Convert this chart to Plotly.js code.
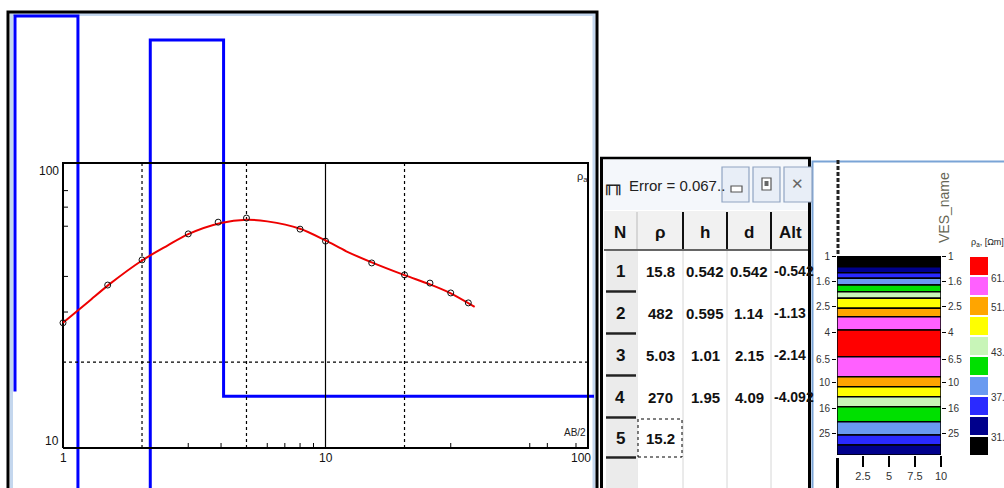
<!DOCTYPE html>
<html><head><meta charset="utf-8">
<script src="https://cdn.plot.ly/plotly-3.0.1.min.js"></script>
<style>html,body{margin:0;padding:0;background:#fff;overflow:hidden}#c{width:1004px;height:488px}</style>
</head><body><div id="c"></div><script>
// ---------------- data ----------------
// field measurements (AB/2, apparent resistivity)
const abHalf = [1, 1.48, 2, 3, 3.9, 5, 8, 10, 15, 20, 25, 30, 35];
const rhoA   = [27.5, 37.3, 45.7, 56.4, 62.0, 64.1, 58.6, 53.2, 44.6, 40.5, 37.9, 35.0, 32.3];
// fitted curve
const fitAB  = [1, 1.25, 1.5, 2, 2.5, 3, 4, 5, 6, 8, 10, 12, 15, 20, 25, 30, 37];
const fitRho = [27.5, 32.6, 37.5, 45.5, 51.3, 56.3, 61.6, 63.2, 62.4, 58.8, 53.5, 49.0, 44.8, 40.4, 37.5, 34.9, 31.3];
// layered model
const layerN   = [1, 2, 3, 4, 5];
const layerRho = [15.8, 482, 5.03, 270, 15.2];
const layerH   = [0.542, 0.595, 1.01, 1.95];
const layerD   = [0.542, 1.14, 2.15, 4.09];
const layerAlt = ["-0.542", "-1.13", "-2.14", "-4.092"];
const tableHeader = ["N", "ρ", "h", "d", "Alt"];
const errorText = "Error = 0.067..";
// axis ticks of the sounding plot
const xTickVals = [1, 10, 100];
const yTickVals = [10, 100];
const xMinorTicks = [3, 4, 6, 7, 8, 9, 30, 60, 70, 90];
const yMinorTicks = [30, 40, 60, 70, 80];
const xDotGrid = [2, 5, 20];
const xSolidGrid = [10];
const yDotGrid = [20];
// pseudo-section column (AB/2 band edges and colour class of each band)
const bandEdges = [1.00, 1.214, 1.353, 1.498, 1.692, 1.910, 2.154, 2.581, 3.006, 3.825, 6.21, 8.92, 10.69, 12.82, 15.37, 20.18, 25.7, 30.8, 36.9];
const bandClass = [0, 1, 2, 3, 4, 5, 6, 7, 8, 9, 8, 7, 6, 5, 4, 3, 2, 1];
const colTickVals = [1, 1.6, 2.5, 4, 6.5, 10, 16, 25];
const colXTicks = [2.5, 5, 7.5, 10];
const colXTickText = ["2.5", "5", "7.5", "10"];
// colour scale, lowest to highest
const classColors = ["#000000", "#00008c", "#2a2aff", "#6a9af0", "#00e000", "#c8f5b8", "#ffff00", "#ffa500", "#ff60ff", "#ff0000"];
const legendLabels = ["61.", "51.", "43.", "37.", "31."];

// ---------------- layout helpers ----------------
const W = 1004, H = 488;
const PX = x => x / W, PY = y => 1 - y / H;
const X0PX = 63, DECX = 262.5, Y10PX = 448, DECY = 285;
const xr = p => (p - X0PX) / DECX;       // pixel -> log10(AB/2)
const yr = p => 1 + (Y10PX - p) / DECY;  // pixel -> log10(rho)
const NARROW = "Liberation Sans, Arial, sans-serif";
const SANS = "Liberation Sans, Arial, sans-serif";

const traces = [];
// model step line
const sx = [], sy = [];
sx.push(Math.pow(10, xr(-200))); sy.push(layerRho[0]);
for (let i = 0; i < layerD.length; i++) { sx.push(layerD[i], layerD[i]); sy.push(layerRho[i], layerRho[i + 1]); }
sx.push(Math.pow(10, xr(900))); sy.push(layerRho[layerRho.length - 1]);
const xVisMin = Math.pow(10, xr(15)), yVisMax = Math.pow(10, yr(16));
traces.push({type: 'scatter', mode: 'lines', x: sx.map(v => Math.max(v, xVisMin)), y: sy.map(v => Math.min(v, yVisMax)),
  line: {color: '#0000ff', width: 3}, hoverinfo: 'skip', xaxis: 'x', yaxis: 'y'});

// frame of the sounding plot
traces.push({type: 'scatter', mode: 'lines', x: [1, 100, 100, 1, 1], y: [10, 10, 100, 100, 10],
  line: {color: '#000', width: 2}, hoverinfo: 'skip'});
// grid
function segs(list, f) { const X = [], Y = []; list.forEach(v => { const s = f(v); X.push(s[0], s[1], null); Y.push(s[2], s[3], null); }); return {X, Y}; }
let g = segs(xSolidGrid, v => [v, v, 10, 100]);
traces.push({type: 'scatter', mode: 'lines', x: g.X, y: g.Y, line: {color: '#000', width: 1.2}, hoverinfo: 'skip'});
g = segs(xDotGrid, v => [v, v, 10, 100]);
let g2 = segs(yDotGrid, v => [1, 100, v, v]);
traces.push({type: 'scatter', mode: 'lines', x: g.X.concat(g2.X), y: g.Y.concat(g2.Y), line: {color: '#000', width: 1.2, dash: '3px,3px'}, hoverinfo: 'skip'});
// minor ticks
const tx = Math.pow(10, xr(X0PX + 5)), ty = Math.pow(10, yr(Y10PX - 5));
g = segs(xMinorTicks, v => [v, v, 10, ty]);
g2 = segs(yMinorTicks, v => [1, tx, v, v]);
traces.push({type: 'scatter', mode: 'lines', x: g.X.concat(g2.X), y: g.Y.concat(g2.Y), line: {color: '#000', width: 1}, hoverinfo: 'skip'});
// fitted curve + measurements
traces.push({type: 'scatter', mode: 'lines', x: fitAB, y: fitRho, line: {color: '#ee0000', width: 2, shape: 'spline', smoothing: 0.8}, hoverinfo: 'skip'});
traces.push({type: 'scatter', mode: 'markers', x: abHalf, y: rhoA, marker: {symbol: 'circle-open', size: 6, color: '#111', line: {width: 1}}, hoverinfo: 'skip'});

// pseudo-section column
const bx = [], bb = [], bh = [], bc = [];
for (let i = 0; i < bandClass.length; i++) { bx.push(5); bb.push(bandEdges[i]); bh.push(bandEdges[i + 1] - bandEdges[i]); bc.push(classColors[bandClass[i]]); }
traces.push({type: 'bar', x: bx, y: bh, base: bb, width: 10, marker: {color: bc, line: {color: '#000', width: 1.5}}, xaxis: 'x3', yaxis: 'y3', hoverinfo: 'skip'});
traces.push({type: 'scatter', mode: 'none', x: [5, 5], y: [1, 30], xaxis: 'x3', yaxis: 'y4', hoverinfo: 'skip'});
// legend boxes
traces.push({type: 'bar', orientation: 'h', y: classColors.map((c, i) => i), x: classColors.map(() => 1), width: 0.86,
  marker: {color: classColors}, xaxis: 'x5', yaxis: 'y5', hoverinfo: 'skip'});

// ---------------- shapes ----------------
const shapes = [];
function rectP(x0, y0, x1, y1, opt) { shapes.push(Object.assign({type: 'rect', xref: 'paper', yref: 'paper', x0: PX(x0), x1: PX(x1), y0: PY(y1), y1: PY(y0), layer: 'below', line: {width: 0}}, opt)); }
function lineP(x0, y0, x1, y1, color, width, dash, layer) { shapes.push({type: 'line', xref: 'paper', yref: 'paper', x0: PX(x0), x1: PX(x1), y0: PY(y0), y1: PY(y1), line: {color: color, width: width, dash: dash || 'solid'}, layer: layer || 'above'}); }

// left panel frame
rectP(11.5, 14.5, 594, 500, {line: {color: '#c4d7ee', width: 3}});
rectP(8, 12, 597, 500, {line: {color: '#000', width: 3}});

// table window
rectP(603, 159, 809, 210, {fillcolor: '#f4f7fb'});
lineP(601.5, 157, 601.5, 488, '#000', 3);
lineP(600, 158, 811, 158, '#000', 2.5);
lineP(809.5, 157, 809.5, 488, '#000', 3);
const btns = [[722, 749], [753, 780], [784, 812]];
btns.forEach(b => rectP(b[0], 167, b[1], 202, {fillcolor: '#e8eef7', line: {color: '#8fa4c2', width: 1.2}, layer: 'above'}));
rectP(731, 186, 742, 192, {fillcolor: '#ffffff', line: {color: '#555', width: 1.2}, layer: 'above'});
rectP(762, 178, 771, 190, {fillcolor: '#ffffff', line: {color: '#555', width: 1.2}, layer: 'above'});
rectP(764.5, 181, 768.5, 186, {fillcolor: '#666', layer: 'above'});
const colEdges = [604, 637, 683, 727, 771, 808];
const rowEdges = [250, 292, 334, 376, 418, 458, 500];
rectP(604, 211, 808, 250, {fillcolor: '#f1f1f1'});
lineP(604, 250, 808, 250, '#333', 1.5);
for (let c = 1; c < colEdges.length - 1; c++) {
  lineP(colEdges[c], 212, colEdges[c], 249, c === 1 ? '#bbb' : '#111', c === 1 ? 1 : 2);
  lineP(colEdges[c], 251, colEdges[c], 488, '#d6d6d6', 1);
}
for (let r = 0; r < layerN.length + 1; r++) {
  rectP(606, rowEdges[r] + 1, 636, rowEdges[r + 1] - 1, {fillcolor: '#ebebeb'});
  if (r < layerN.length) lineP(606, rowEdges[r + 1] - 0.5, 636, rowEdges[r + 1] - 0.5, '#222', 2.5);
}
// focus cell (last rho)
rectP(638, rowEdges[4] + 1, 682, rowEdges[5] - 1, {line: {color: '#000', width: 1, dash: 'dot'}, layer: 'above'});

// right panel
rectP(812.5, 161.5, 1010, 500, {line: {color: '#7aa4d6', width: 2}});
lineP(837.5, 458, 837.5, 488, '#000', 3);
lineP(838, 160, 838, 254, '#222', 3, '4px,2px');

// ---------------- annotations ----------------
const ann = [];
function txt(x, y, t, o) { ann.push(Object.assign({xref: 'paper', yref: 'paper', x: PX(x), y: PY(y), text: t, showarrow: false, xanchor: 'center', yanchor: 'middle', font: {family: SANS, size: 11, color: '#111'}}, o || {})); }
// sounding plot axis text
xTickVals.forEach((v, i) => txt(X0PX + DECX * Math.log10(v) - (i === xTickVals.length - 1 ? 7 : 0), 458, String(v), {font: {family: SANS, size: 12, color: '#111'}}));
yTickVals.forEach(v => txt(61, Y10PX - DECY * (Math.log10(v) - 1) + (v === 100 ? 8 : -7), String(v), {xanchor: 'right', font: {family: SANS, size: 12, color: '#111'}}));
txt(582, 177, 'ρ<sub>a</sub>', {font: {family: SANS, size: 11, color: '#222'}});
txt(575, 432, 'AB/2', {font: {family: SANS, size: 10, color: '#222'}});
// table
txt(613, 186, '╓╖', {font: {family: 'DejaVu Sans', size: 17, color: '#222'}});
txt(627, 186, errorText, {xanchor: 'left', font: {family: NARROW, size: 15, color: '#222'}});
txt(797, 184, '✕', {font: {family: 'DejaVu Sans', size: 15, color: '#666'}});
const colCenters = [620, 660, 705, 749, 772];
tableHeader.forEach((t, c) => txt(c === 4 ? 790 : colCenters[c], 232, '<b>' + t + '</b>', {font: {family: NARROW, size: 17, color: '#111'}}));
const bodyCols = [layerN.map(String), layerRho.map(String), layerH.map(String), layerD.map(String), layerAlt];
bodyCols.forEach((col, c) => col.forEach((t, r) => {
  const y = (rowEdges[r] + rowEdges[r + 1]) / 2;
  txt(colCenters[c], y, '<b>' + t + '</b>', {xanchor: c === 4 ? 'left' : 'center', font: {family: NARROW, size: c === 0 ? 17 : (c === 4 ? 14 : 15), color: '#111'}});
}));
// right panel
txt(944, 208, 'VES_name', {textangle: -90, font: {family: SANS, size: 14, color: '#665'}});
txt(969, 242, 'ρ<sub>a</sub>, [Ωm]', {xanchor: 'left', font: {family: NARROW, size: 9, color: '#222'}});
const legY = [278, 307, 352, 397, 437];
legendLabels.forEach((t, i) => txt(989, legY[i], t, {xanchor: 'left', font: {family: NARROW, size: 10, color: '#333'}}));

const layout = {
  width: W, height: H, margin: {l: 0, r: 0, t: 0, b: 0}, showlegend: false,
  paper_bgcolor: '#fff', plot_bgcolor: 'rgba(0,0,0,0)',
  xaxis: {domain: [PX(12), PX(594)], type: 'log', range: [xr(12), xr(594)], visible: false, fixedrange: true},
  yaxis: {domain: [0, PY(13)], type: 'log', range: [yr(488), yr(13)], visible: false, fixedrange: true},
  xaxis3: {domain: [PX(837), PX(941)], range: [0, 10], anchor: 'y3', tickvals: colXTicks, ticktext: colXTickText,
    ticks: 'outside', ticklen: 11, tickwidth: 1.5, tickcolor: '#000', showgrid: false, zeroline: false, showline: false,
    tickfont: {family: NARROW, size: 11, color: '#333'}},
  yaxis3: {domain: [PY(455), PY(256)], type: 'log', range: [Math.log10(bandEdges[bandEdges.length - 1]), 0], anchor: 'x3',
    tickvals: colTickVals, ticktext: colTickVals.map(String), ticks: 'outside', ticklen: 4, tickcolor: '#000',
    showgrid: false, zeroline: false, showline: false, tickfont: {family: NARROW, size: 10, color: '#333'}},
  yaxis4: {overlaying: 'y3', side: 'right', anchor: 'x3', type: 'log', range: [Math.log10(bandEdges[bandEdges.length - 1]), 0],
    tickvals: colTickVals, ticktext: colTickVals.map(String), ticks: 'outside', ticklen: 4, tickcolor: '#000',
    showgrid: false, zeroline: false, showline: false, tickfont: {family: NARROW, size: 10, color: '#333'}},
  xaxis5: {domain: [PX(970), PX(988)], range: [0, 1], visible: false, anchor: 'y5'},
  yaxis5: {domain: [PY(456), PY(256)], range: [-0.5, 9.5], visible: false, anchor: 'x5'},
  shapes: shapes, annotations: ann, bargap: 0
};
Plotly.newPlot('c', traces, layout, {staticPlot: true, displayModeBar: false});
</script></body></html>
